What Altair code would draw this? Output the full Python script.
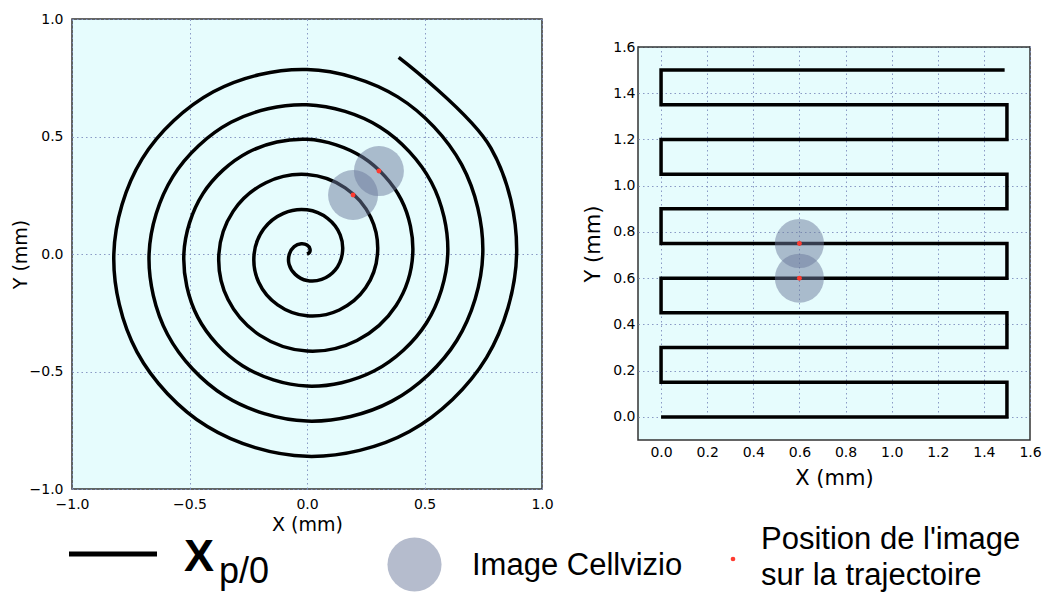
import math
import altair as alt
import pandas as pd

# ---------------- data ----------------
# Spiral trajectory: polar readings (angle in degrees, radius in mm)
spiral_angle = [0, 30, 60, 90, 120, 150, 180, 210, 240, 270, 300, 330,
                360, 390, 420, 450, 480, 510, 540, 570, 600, 630, 660, 690,
                720, 750, 780, 810, 840, 870, 900, 930, 960, 990, 1020, 1050,
                1080, 1110, 1140, 1170, 1200, 1230, 1260, 1290, 1320, 1350,
                1380, 1410, 1440, 1470, 1500, 1530, 1560, 1590, 1620, 1650,
                1680, 1710, 1740, 1770, 1800, 1830, 1860, 1890, 1920, 1950,
                1980, 2010, 2040, 2070, 2100, 2130, 2160, 2190, 2225]
spiral_radius = [0.000, 0.012, 0.025, 0.038, 0.050, 0.063, 0.075, 0.088,
                 0.100, 0.113, 0.125, 0.138, 0.150, 0.163, 0.175, 0.188,
                 0.200, 0.213, 0.225, 0.238, 0.250, 0.263, 0.275, 0.288,
                 0.300, 0.313, 0.325, 0.338, 0.350, 0.363, 0.375, 0.388,
                 0.400, 0.413, 0.425, 0.438, 0.450, 0.463, 0.475, 0.488,
                 0.500, 0.512, 0.524, 0.537, 0.549, 0.562, 0.574, 0.587,
                 0.599, 0.611, 0.623, 0.635, 0.647, 0.659, 0.672, 0.685,
                 0.698, 0.711, 0.723, 0.736, 0.748, 0.760, 0.772, 0.785,
                 0.797, 0.810, 0.822, 0.835, 0.848, 0.861, 0.872, 0.882,
                 0.892, 0.903, 0.923]

# Raster trajectory vertices (mm)
raster_x = [0.0, 1.5, 1.5, 0.0, 0.0, 1.5, 1.5, 0.0, 0.0, 1.5, 1.5,
            0.0, 0.0, 1.5, 1.5, 0.0, 0.0, 1.5, 1.5, 0.0, 0.0, 1.49]
raster_y = [0.0, 0.0, 0.15, 0.15, 0.3, 0.3, 0.45, 0.45, 0.6, 0.6, 0.75,
            0.75, 0.9, 0.9, 1.05, 1.05, 1.2, 1.2, 1.35, 1.35, 1.5, 1.5]

# Image positions on each trajectory (mm)
spiral_img_x = [0.196, 0.306]
spiral_img_y = [0.251, 0.353]
raster_img_x = [0.6, 0.6]
raster_img_y = [0.75, 0.6]
image_radius_mm = 0.12

left_ticks = [-1.0, -0.5, 0.0, 0.5, 1.0]
right_ticks = [0.0, 0.2, 0.4, 0.6, 0.8, 1.0, 1.2, 1.4, 1.6]
left_domain = [-1.0, 1.0]
right_domain = [-0.1, 1.6]
axis_x_title = "X (mm)"
axis_y_title = "Y (mm)"
legend_symbol = "X"
legend_sub = "p/0"
legend_image = "Image Cellvizio"
legend_pos_1 = "Position de l'image"
legend_pos_2 = "sur la trajectoire"

# ---------------- styling ----------------
BG = "#e6fcfd"
FRAME = "#333333"
GRID = "#7f8fbf"
CIRCLE = "#6c7a9c"
RED = "#ff3b30"
TXT = "Liberation Sans, Arial, sans-serif"

LW, LH = 470, 470          # left plot area
RW, RH = 392, 393          # right plot area
RTOP = 28                  # right plot sits lower than the left one
RH_TOT = RH + RTOP


def make_axis(values, title_size, lpad, tpad):
    return alt.Axis(values=values, format=".1f", grid=True, gridColor=GRID,
                    gridDash=[1.5, 3], gridWidth=1, gridOpacity=0.9,
                    domain=False, ticks=False, tickSize=0,
                    labelFont="DejaVu Sans", labelFontSize=14,
                    labelColor="black", labelPadding=lpad,
                    labelFlush=False, labelOverlap=False,
                    titleFont="DejaVu Sans", titleFontSize=title_size,
                    titleFontWeight="normal", titleColor="black",
                    titlePadding=tpad)


view_bg = alt.ViewBackground(fill=BG, stroke=FRAME, strokeWidth=1.5)
one = pd.DataFrame({"k": [0]})

# ---------------- left: spiral ----------------
spiral_df = pd.DataFrame({"i": range(len(spiral_angle)),
                          "a": spiral_angle, "r": spiral_radius})
lx = alt.Scale(domain=left_domain, nice=False, zero=False)
ly = alt.Scale(domain=left_domain, nice=False, zero=False)
lxa = make_axis(left_ticks, 19, 8, 4)
lya = make_axis(left_ticks, 19, 9, -1)

spiral_line = alt.Chart(spiral_df).transform_calculate(
    x="datum.r * cos(datum.a * PI / 180)",
    y="datum.r * sin(datum.a * PI / 180)",
).mark_line(color="black", strokeWidth=3.5, interpolate="catmull-rom").encode(
    x=alt.X("x:Q", scale=lx, axis=lxa, title=axis_x_title),
    y=alt.Y("y:Q", scale=ly, axis=lya, title=axis_y_title),
    order="i:Q",
)

spiral_img_df = pd.DataFrame({"x": spiral_img_x, "y": spiral_img_y})
l_px = LW / (left_domain[1] - left_domain[0])
l_size = math.pi * (image_radius_mm * l_px) ** 2
spiral_circles = alt.Chart(spiral_img_df).mark_circle(
    size=l_size, color=CIRCLE, opacity=0.5).encode(
    x=alt.X("x:Q", scale=lx), y=alt.Y("y:Q", scale=ly))
spiral_dots = alt.Chart(spiral_img_df).mark_circle(
    size=24, color=RED, opacity=1).encode(
    x=alt.X("x:Q", scale=lx), y=alt.Y("y:Q", scale=ly))

# legend (placed below the panels, relative to the left plot origin)
leg_line = alt.Chart(one).mark_rule(color="black", strokeWidth=5).encode(
    x=alt.value(-3), x2=alt.value(85), y=alt.value(535), y2=alt.value(535))
leg_x = alt.Chart(one).mark_text(
    text=legend_symbol, font=TXT, fontWeight="bold", fontSize=45,
    align="left", baseline="alphabetic", color="black").encode(
    x=alt.value(112), y=alt.value(552))
leg_sub = alt.Chart(one).mark_text(
    text=legend_sub, font=TXT, fontSize=36, align="left",
    baseline="alphabetic", color="black").encode(
    x=alt.value(147), y=alt.value(564))
leg_circle = alt.Chart(one).mark_circle(
    size=math.pi * 30.5 ** 2, color=CIRCLE, opacity=0.5).encode(
    x=alt.value(342.5), y=alt.value(545.5))
leg_img = alt.Chart(one).mark_text(
    text=legend_image, font=TXT, fontSize=31, align="left",
    baseline="alphabetic", color="black").encode(
    x=alt.value(400), y=alt.value(556))
leg_dot = alt.Chart(one).mark_circle(size=22, color=RED, opacity=1).encode(
    x=alt.value(661), y=alt.value(540))
leg_pos1 = alt.Chart(one).mark_text(
    text=legend_pos_1, font=TXT, fontSize=31, align="left",
    baseline="alphabetic", color="black").encode(
    x=alt.value(689), y=alt.value(530))
leg_pos2 = alt.Chart(one).mark_text(
    text=legend_pos_2, font=TXT, fontSize=31, align="left",
    baseline="alphabetic", color="black").encode(
    x=alt.value(689), y=alt.value(566))

left = alt.layer(spiral_line, spiral_circles, spiral_dots,
                 leg_line, leg_x, leg_sub, leg_circle, leg_img, leg_dot,
                 leg_pos1, leg_pos2).properties(
    width=LW, height=LH, view=view_bg)

# ---------------- right: raster ----------------
raster_df = pd.DataFrame({"i": range(len(raster_x)),
                          "x": raster_x, "y": raster_y})
rx = alt.Scale(domain=right_domain, nice=False, zero=False)
ry = alt.Scale(domain=right_domain, nice=False, zero=False,
               range=[RH_TOT, RTOP])
rxa = make_axis(right_ticks, 21, 5, 8)
rya = make_axis(right_ticks, 21, 3, 9)

# white strip hiding the part of the view above the right plot area
cover = alt.Chart(one).mark_rect(color="white", opacity=1).encode(
    x=alt.value(-1), x2=alt.value(RW + 2),
    y=alt.value(-2), y2=alt.value(RTOP - 0.8))
top_frame = alt.Chart(one).mark_rule(color=FRAME, strokeWidth=1.5).encode(
    x=alt.datum(right_domain[0], scale=rx),
    x2=alt.datum(right_domain[1]),
    y=alt.datum(right_domain[1], scale=ry))

raster_line = alt.Chart(raster_df).mark_line(
    color="black", strokeWidth=3.5, strokeJoin="miter").encode(
    x=alt.X("x:Q", scale=rx, axis=rxa, title=axis_x_title),
    y=alt.Y("y:Q", scale=ry, axis=rya, title=axis_y_title),
    order="i:Q",
)
raster_img_df = pd.DataFrame({"x": raster_img_x, "y": raster_img_y})
r_px = RW / (right_domain[1] - right_domain[0])
r_size = math.pi * (image_radius_mm * r_px) ** 2
raster_circles = alt.Chart(raster_img_df).mark_circle(
    size=r_size, color=CIRCLE, opacity=0.5).encode(
    x=alt.X("x:Q", scale=rx), y=alt.Y("y:Q", scale=ry))
raster_dots = alt.Chart(raster_img_df).mark_circle(
    size=24, color=RED, opacity=1).encode(
    x=alt.X("x:Q", scale=rx), y=alt.Y("y:Q", scale=ry))

right = alt.layer(raster_line, cover, top_frame, raster_circles,
                  raster_dots).properties(
    width=RW, height=RH_TOT, view=view_bg)

chart = alt.hconcat(left, right, spacing=96, bounds="flush").properties(
    padding={"left": 2, "top": 3, "right": 0, "bottom": 0},
    background="white",
)

chart.save("out.html", embed_options={"renderer": "svg", "actions": False})
